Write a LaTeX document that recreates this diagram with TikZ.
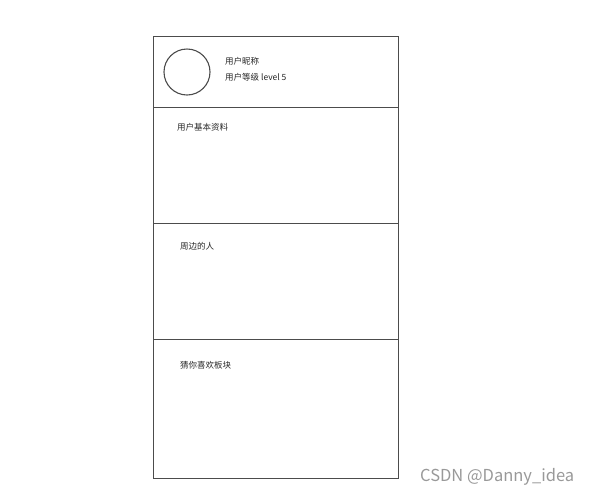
\documentclass[tikz,border=0pt]{standalone}
\usepackage{fontspec}
\setmainfont{Noto Sans CJK SC}
\usetikzlibrary{positioning}

\begin{document}
\begin{tikzpicture}[
  x=1pt,
  y=-1pt,
  font=\fontsize{8.5}{10}\selectfont,
  panel/.style={draw=black!70, line width=1.1pt, inner sep=0pt, minimum width=245pt, anchor=north west},
  lbl/.style={anchor=west, inner sep=0pt, text=black!85},
  avatar/.style={draw=black!70, line width=1.1pt, circle, minimum size=46pt, inner sep=0pt}
]
\useasboundingbox (0,0) rectangle (595,499);

% Panels of the page
\node[panel, minimum height=71pt] (header) at (153,36) {};
\node[panel, minimum height=116pt] (profile) at (153,107) {};
\node[panel, minimum height=116pt] (nearby) at (153,223) {};
\node[panel, minimum height=139pt] (guess) at (153,339) {};

% Header content
\node[avatar] (avatar) at (187,72) {};
\node[lbl] (nick) at (225,61) {用户昵称};
\node[lbl] (level) at (225,77.5) {用户等级 level 5};

% Section titles
\node[lbl] (profileTitle) at (177,127) {用户基本资料};
\node[lbl] (nearbyTitle) at (180,246) {周边的人};
\node[lbl] (guessTitle) at (180,365) {猜你喜欢板块};

% Watermark
\node[anchor=west, inner sep=0pt, text=black!40, font=\fontsize{16.5}{19}\selectfont] (mark) at (420,477) {CSDN @Danny\_idea};

\end{tikzpicture}
\end{document}
